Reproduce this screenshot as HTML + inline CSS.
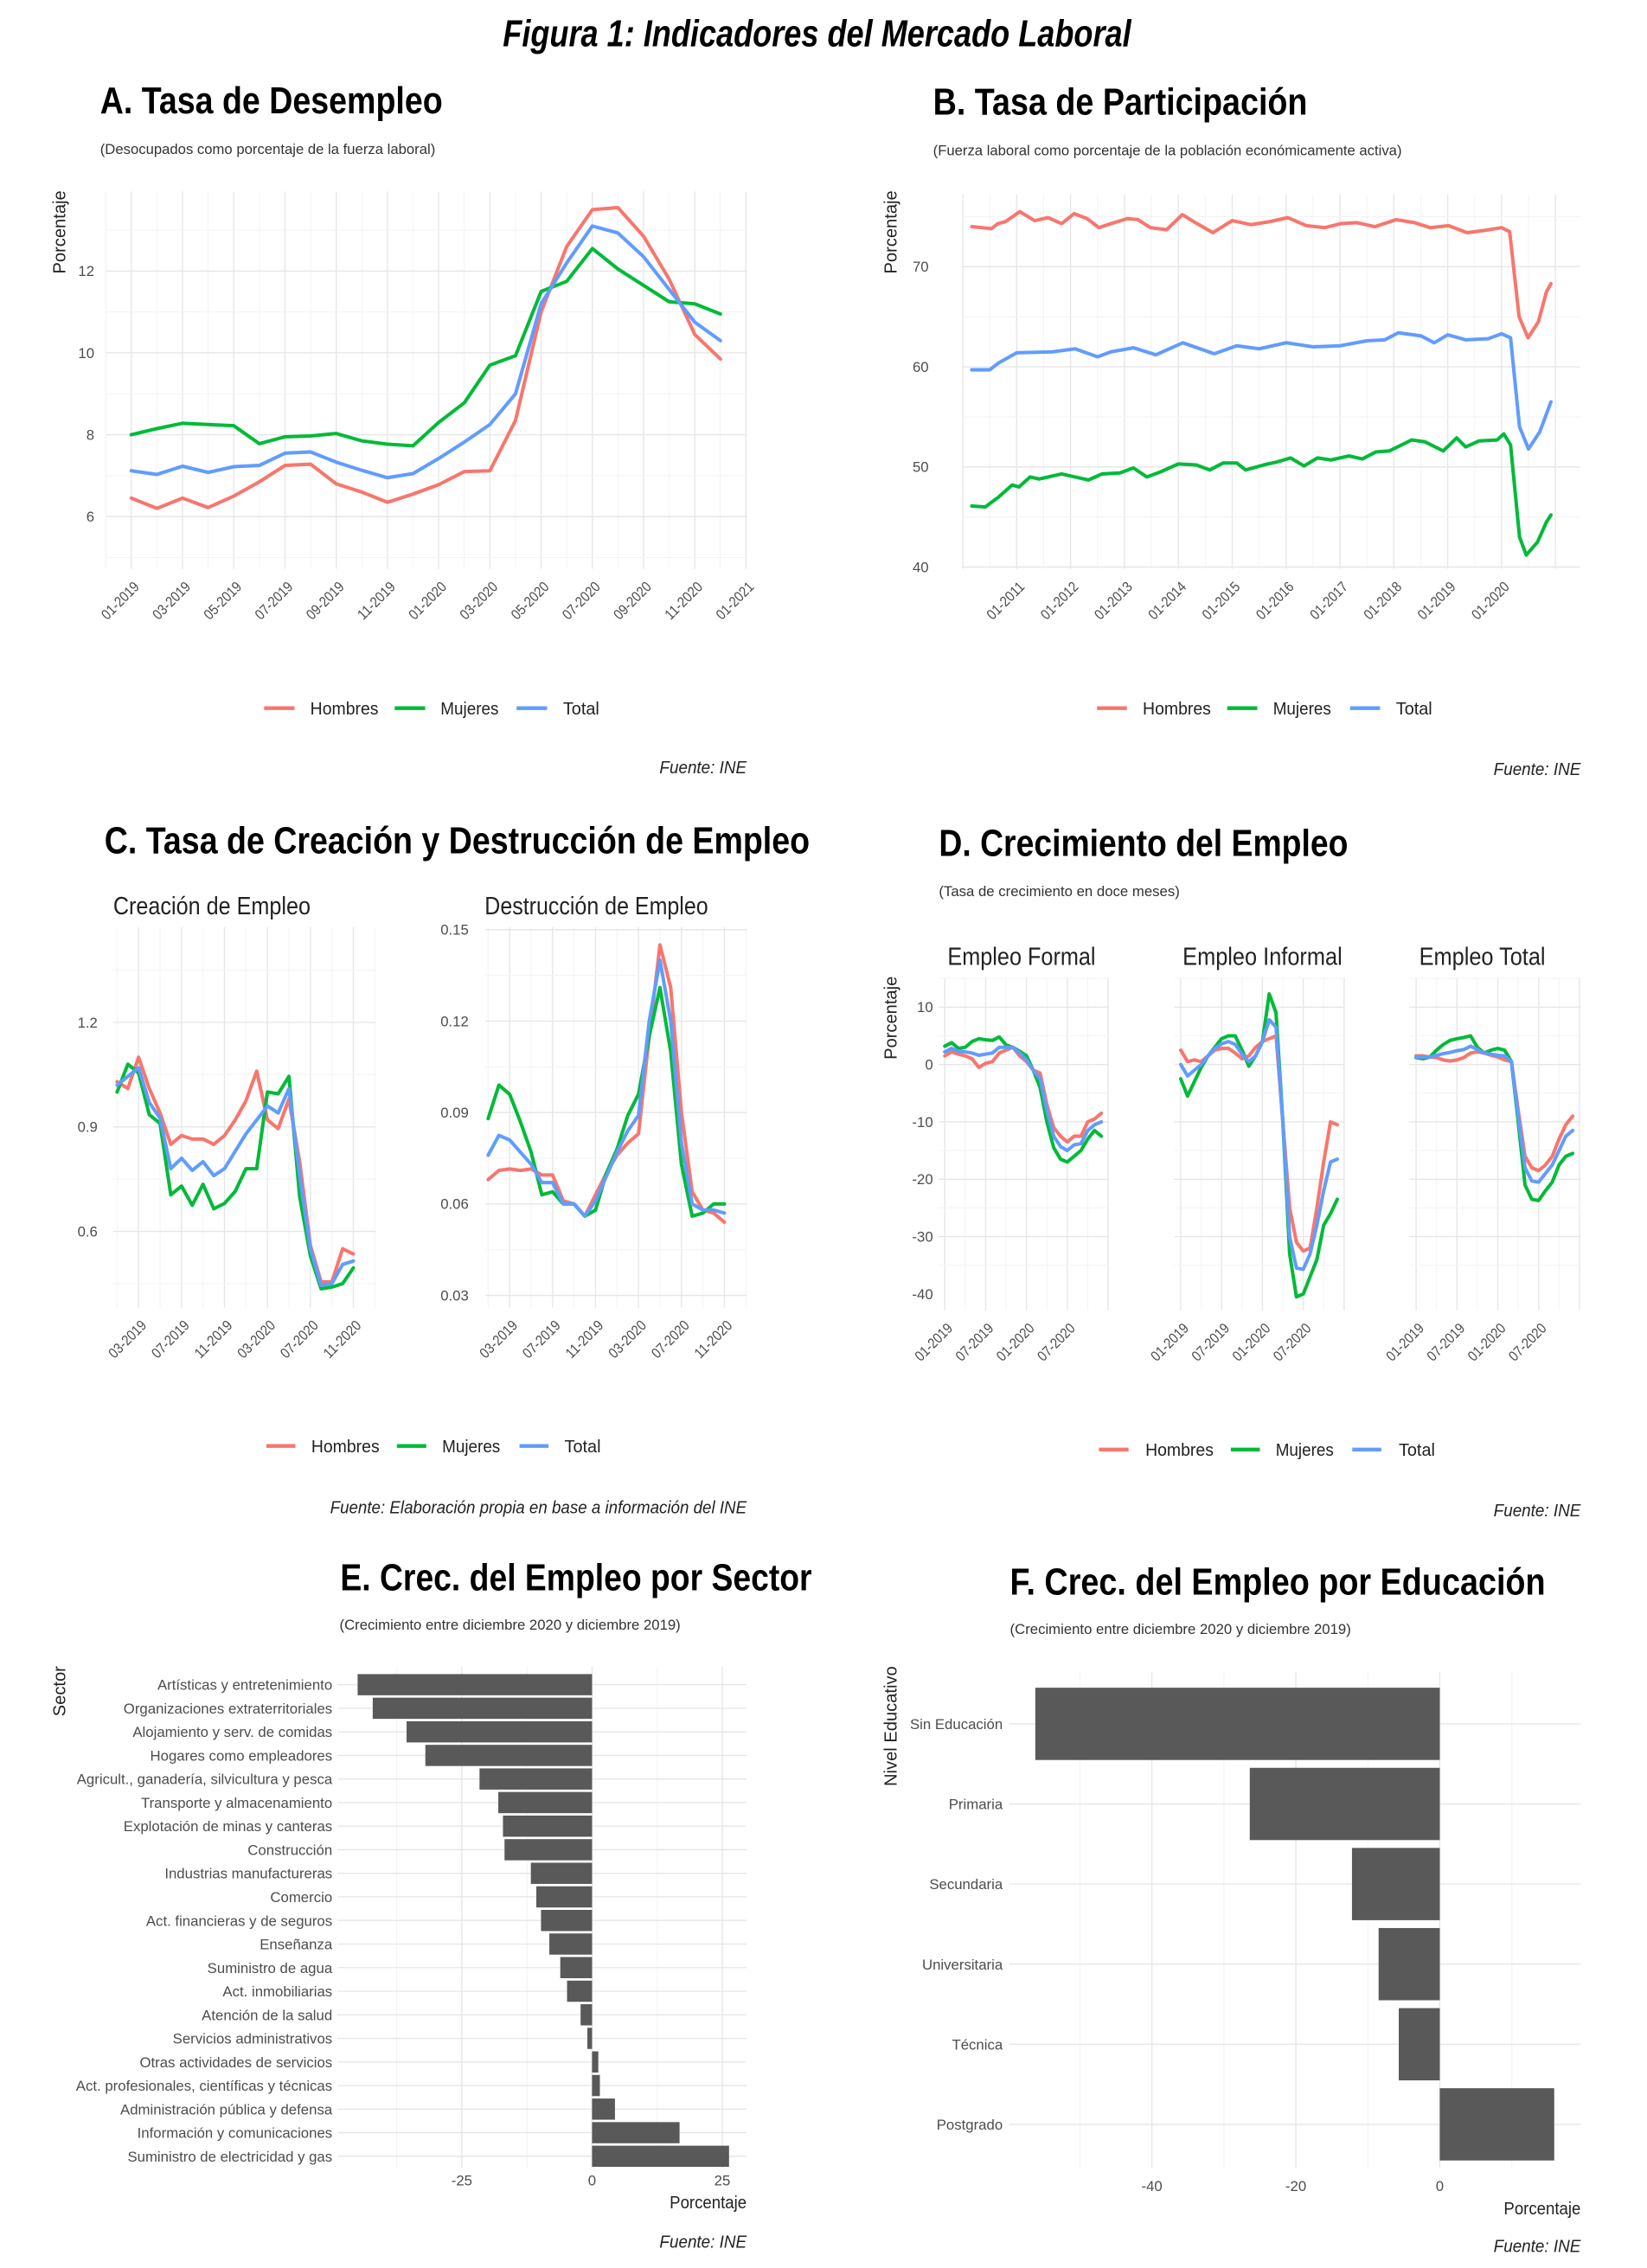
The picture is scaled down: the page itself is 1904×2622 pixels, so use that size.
<!DOCTYPE html>
<html><head><meta charset="utf-8"><title>Figura 1</title>
<style>
html,body{margin:0;padding:0;background:#fff;}
svg{display:block;}
text{font-family:"Liberation Sans Narrow","Liberation Sans",sans-serif;}
.tk{fill:#4d4d4d;font-size:10px;}
.ttl{font-weight:bold;fill:#000;font-size:26px;}
.sub{fill:#333;font-size:10px;}
.fac{fill:#222;font-size:17px;}
.lg{fill:#222;font-size:12px;}
.src{fill:#222;font-size:12px;font-style:italic;}
.axl{fill:#222;font-size:12px;}
</style></head>
<body>
<svg id="fig" xmlns="http://www.w3.org/2000/svg" width="1904" height="2622" viewBox="0 0 1135 1563" preserveAspectRatio="none">
<rect width="1135" height="1563" fill="#fff"/>
<text x="563" y="32" text-anchor="middle" font-size="26" font-weight="bold" font-style="italic" textLength="433" lengthAdjust="spacingAndGlyphs">Figura 1: Indicadores del Mercado Laboral</text>

<text class="ttl" x="69" y="78" textLength="236" lengthAdjust="spacingAndGlyphs">A. Tasa de Desempleo</text>
<text class="sub" x="69" y="106" textLength="231" lengthAdjust="spacingAndGlyphs">(Desocupados como porcentaje de la fuerza laboral)</text>
<text class="src" x="514.5" y="533" text-anchor="end" textLength="60" lengthAdjust="spacingAndGlyphs">Fuente: INE</text>

<text class="ttl" x="643" y="79" textLength="258" lengthAdjust="spacingAndGlyphs">B. Tasa de Participación</text>
<text class="sub" x="643" y="107" textLength="323" lengthAdjust="spacingAndGlyphs">(Fuerza laboral como porcentaje de la población económicamente activa)</text>
<text class="src" x="1089.3" y="534" text-anchor="end" textLength="60" lengthAdjust="spacingAndGlyphs">Fuente: INE</text>

<text class="ttl" x="72" y="588" textLength="486" lengthAdjust="spacingAndGlyphs">C. Tasa de Creación y Destrucción de Empleo</text>
<text class="fac" x="78" y="630" textLength="136" lengthAdjust="spacingAndGlyphs">Creación de Empleo</text>
<text class="fac" x="334" y="630" textLength="154" lengthAdjust="spacingAndGlyphs">Destrucción de Empleo</text>
<text class="src" x="514.5" y="1043" text-anchor="end" textLength="287" lengthAdjust="spacingAndGlyphs">Fuente: Elaboración propia en base a información del INE</text>

<text class="ttl" x="647" y="590" textLength="282" lengthAdjust="spacingAndGlyphs">D. Crecimiento del Empleo</text>
<text class="sub" x="647" y="617.5" textLength="166" lengthAdjust="spacingAndGlyphs">(Tasa de crecimiento en doce meses)</text>
<text class="fac" x="653" y="665" textLength="102" lengthAdjust="spacingAndGlyphs">Empleo Formal</text>
<text class="fac" x="815" y="665" textLength="110" lengthAdjust="spacingAndGlyphs">Empleo Informal</text>
<text class="fac" x="978" y="665" textLength="87" lengthAdjust="spacingAndGlyphs">Empleo Total</text>
<text class="src" x="1089.3" y="1045" text-anchor="end" textLength="60" lengthAdjust="spacingAndGlyphs">Fuente: INE</text>

<text class="ttl" x="234.5" y="1096" textLength="325" lengthAdjust="spacingAndGlyphs">E. Crec. del Empleo por Sector</text>
<text class="sub" x="234" y="1123" textLength="235" lengthAdjust="spacingAndGlyphs">(Crecimiento entre diciembre 2020 y diciembre 2019)</text>
<text class="axl" x="514.5" y="1522" text-anchor="end" textLength="53" lengthAdjust="spacingAndGlyphs">Porcentaje</text>
<text class="src" x="514.5" y="1549" text-anchor="end" textLength="60" lengthAdjust="spacingAndGlyphs">Fuente: INE</text>

<text class="ttl" x="696" y="1099" textLength="369" lengthAdjust="spacingAndGlyphs">F. Crec. del Empleo por Educación</text>
<text class="sub" x="696" y="1126" textLength="235" lengthAdjust="spacingAndGlyphs">(Crecimiento entre diciembre 2020 y diciembre 2019)</text>
<text class="axl" x="1089.3" y="1526" text-anchor="end" textLength="53" lengthAdjust="spacingAndGlyphs">Porcentaje</text>
<text class="src" x="1089.3" y="1552" text-anchor="end" textLength="60" lengthAdjust="spacingAndGlyphs">Fuente: INE</text>

<g id="layer"></g>
</svg>
<script>
// ---------- Panel A data ----------
const aHombres=[6.45,6.2,6.45,6.22,6.5,6.85,7.25,7.28,6.8,6.6,6.35,6.55,6.78,7.1,7.12,8.35,11.0,12.6,13.5,13.55,12.85,11.8,10.45,9.85];
const aMujeres=[8.0,8.15,8.28,8.25,8.22,7.78,7.95,7.97,8.03,7.85,7.77,7.73,8.3,8.78,9.7,9.93,11.5,11.75,12.55,12.05,11.65,11.25,11.2,10.95];
const aTotal=[7.12,7.03,7.23,7.08,7.22,7.25,7.55,7.58,7.33,7.13,6.95,7.05,7.42,7.82,8.25,9.0,11.2,12.2,13.1,12.93,12.35,11.55,10.75,10.3];
const aXTickLabels=['01-2019','03-2019','05-2019','07-2019','09-2019','11-2019','01-2020','03-2020','05-2020','07-2020','09-2020','11-2020','01-2021'];
const aYTicks=[6,8,10,12];
// ---------- Panel B data (months since 01-2010) ----------
const bHMonths=[2,6.4,7.8,9.5,12.7,16,19,22,24.8,27.7,30.3,33,36.6,39,41.8,45.4,48.9,51.8,55.7,60,64.2,68.3,72.4,76.5,80.6,84.2,87.7,91.8,96.5,100.6,104.1,108.2,112.3,115.9,120,121.8,123.9,125.9,128.2,130,131];
const bHombres=[74,73.8,74.3,74.5,75.5,74.6,74.9,74.3,75.3,74.8,73.9,74.3,74.8,74.7,73.9,73.7,75.2,74.4,73.4,74.6,74.2,74.5,74.9,74.1,73.9,74.3,74.4,74.0,74.7,74.4,73.9,74.1,73.4,73.6,73.9,73.5,65,62.9,64.5,67.5,68.3];
const bTMonths=[2,6,8,12,20,25,30,33,38,43,49,56,61,66,72,78,84,90,94,97,102,105,108,112,117,120,122,124,126,128.5,131];
const bTotal=[59.7,59.7,60.4,61.4,61.5,61.8,61.0,61.5,61.9,61.2,62.4,61.3,62.1,61.8,62.4,62.0,62.1,62.6,62.7,63.4,63.1,62.4,63.2,62.7,62.8,63.3,62.9,54,51.8,53.5,56.5];
const bMMonths=[2,5,8,11,12.5,15,17,22,25,28,31,35,38,41,44,48,52,55,58,61,63,67,70,73,76,79,82,86,89,92,95,100,103,107,110,112,115,119,120.5,122,124,125.5,128,130,131];
const bMujeres=[46.1,46.0,47,48.2,48.0,49,48.8,49.3,49.0,48.7,49.3,49.4,49.9,49.0,49.5,50.3,50.2,49.7,50.4,50.4,49.7,50.2,50.5,50.9,50.1,50.9,50.7,51.1,50.8,51.5,51.6,52.7,52.5,51.6,52.9,52.0,52.6,52.7,53.3,52.2,43,41.2,42.5,44.5,45.2];
const bXTickLabels=['01-2011','01-2012','01-2013','01-2014','01-2015','01-2016','01-2017','01-2018','01-2019','01-2020'];
const bYTicks=[40,50,60,70];
// ---------- Panel C data (01-2019 .. 11-2020) ----------
const cCreaH=[1.03,1.01,1.10,1.01,0.94,0.85,0.875,0.865,0.865,0.85,0.875,0.92,0.975,1.06,0.92,0.895,0.98,0.80,0.56,0.455,0.455,0.55,0.535];
const cCreaM=[1.00,1.08,1.055,0.935,0.91,0.705,0.73,0.675,0.735,0.665,0.68,0.715,0.78,0.78,1.00,0.995,1.045,0.70,0.53,0.435,0.44,0.45,0.495];
const cCreaT=[1.02,1.045,1.07,0.97,0.925,0.78,0.81,0.775,0.80,0.76,0.78,0.83,0.88,0.92,0.96,0.94,1.01,0.76,0.55,0.445,0.45,0.505,0.515];
const cDestH=[0.068,0.071,0.0715,0.071,0.0715,0.0695,0.0695,0.061,0.060,0.056,0.063,0.070,0.076,0.080,0.083,0.115,0.145,0.131,0.090,0.064,0.058,0.057,0.054];
const cDestM=[0.088,0.099,0.096,0.087,0.077,0.063,0.064,0.060,0.060,0.056,0.058,0.070,0.078,0.089,0.096,0.115,0.131,0.110,0.073,0.056,0.057,0.060,0.060];
const cDestT=[0.076,0.0825,0.081,0.077,0.073,0.067,0.067,0.060,0.060,0.056,0.061,0.069,0.077,0.084,0.089,0.120,0.140,0.120,0.080,0.060,0.058,0.058,0.057];
const cXTickLabels=['03-2019','07-2019','11-2019','03-2020','07-2020','11-2020'];
const cCreaYTicks=[0.6,0.9,1.2];
const cDestYTicks=[0.03,0.06,0.09,0.12,0.15];
// ---------- Panel D data (01-2019 .. 12-2020) ----------
const dFormalH=[1.5,2.2,1.8,1.5,1.0,-0.5,0.2,0.5,2.0,2.5,3.0,1.5,0.5,-1.0,-1.5,-7,-11,-12.5,-13.5,-12.5,-12.5,-10,-9.5,-8.5];
const dFormalM=[3.2,3.8,2.8,3.0,4.0,4.5,4.3,4.2,4.8,3.4,3.0,2.3,1.5,-1.0,-4.0,-10,-14.5,-16.5,-17,-16,-15,-13,-11.5,-12.5];
const dFormalT=[2.2,2.8,2.3,2.2,2.0,1.6,1.8,2.0,3.0,3.0,3.0,2.0,0.8,-1.0,-2.5,-8.0,-12.5,-14.3,-15.0,-14,-13.8,-11.5,-10.5,-10];
const dInfH=[2.5,0.5,0.8,0.5,1.5,2.5,2.8,2.8,2.0,1.0,1.5,3.0,4.0,4.5,5.0,-10,-25,-31,-32.5,-32,-25,-17,-10,-10.5];
const dInfM=[-2.5,-5.5,-3,-0.5,1.5,3,4.5,5,5,2.5,-0.3,1.5,4,12.3,9,-10,-33,-40.5,-40,-37,-34,-28,-26,-23.5];
const dInfT=[0,-2,-1,0,1.5,2.8,3.6,4,3.5,1.8,0.5,1.5,4,7.8,6.5,-10,-30,-35.5,-35.7,-33,-28,-22,-17,-16.5];
const dTotH=[1.5,1.5,1.3,1.2,0.8,0.6,0.8,1.2,2.0,2.2,2.0,1.6,1.3,0.8,0.5,-8,-16,-18,-18.5,-17.5,-16,-13,-10.5,-9];
const dTotM=[1.2,1.0,1.3,2.5,3.5,4.2,4.5,4.7,5.0,3.0,2.0,2.5,2.8,2.5,0.5,-10,-21,-23.5,-23.7,-22,-20.5,-17.5,-16,-15.5];
const dTotT=[1.3,1.3,1.3,1.6,1.9,2.1,2.4,2.6,3.2,2.6,2.0,1.8,1.6,1.5,0.5,-9,-18,-20.3,-20.5,-19,-17.5,-15,-12.5,-11.5];
const dXTickLabels=['01-2019','07-2019','01-2020','07-2020'];
const dYTicks=[-40,-30,-20,-10,0,10];
// ---------- Panel E data ----------
const eSectors=['Artísticas y entretenimiento','Organizaciones extraterritoriales','Alojamiento y serv. de comidas','Hogares como empleadores','Agricult., ganadería, silvicultura y pesca','Transporte y almacenamiento','Explotación de minas y canteras','Construcción','Industrias manufactureras','Comercio','Act. financieras y de seguros','Enseñanza','Suministro de agua','Act. inmobiliarias','Atención de la salud','Servicios administrativos','Otras actividades de servicios','Act. profesionales, científicas y técnicas','Administración pública y defensa','Información y comunicaciones','Suministro de electricidad y gas'];
const eValues=[-45.0,-42.1,-35.6,-32.0,-21.6,-18.0,-17.1,-16.8,-11.75,-10.7,-9.8,-8.2,-6.1,-4.8,-2.2,-0.9,1.2,1.5,4.4,16.8,26.3];
const eXTicks=[-25,0,25];
// ---------- Panel F data ----------
const fLevels=['Sin Educación','Primaria','Secundaria','Universitaria','Técnica','Postgrado'];
const fValues=[-56.2,-26.4,-12.2,-8.5,-5.7,15.9];
const fXTicks=[-40,-20,0];

const NS='http://www.w3.org/2000/svg';
const layer=document.getElementById('layer');
const COL={H:'#F8766D',M:'#00BA38',T:'#619CFF'};
function mk(tag,attrs,parent){const e=document.createElementNS(NS,tag);for(const k in attrs)e.setAttribute(k,attrs[k]);(parent||layer).appendChild(e);return e;}
function vline(x,y0,y1,minor){const l=mk('line',{x1:x,x2:x,y1:y0,y2:y1,stroke:minor?'#f3f3f3':'#e6e6e6','stroke-width':minor?0.6:0.8});

}
function hline(y,x0,x1,minor){const l=mk('line',{x1:x0,x2:x1,y1:y,y2:y,stroke:minor?'#f3f3f3':'#e6e6e6','stroke-width':minor?0.6:0.8});

}
function series(vals,xf,yf,color,name){let d='';vals.forEach((v,i)=>{d+=(i?'L':'M')+xf(i).toFixed(2)+','+yf(v).toFixed(2);});
const p=mk('path',{d:d,fill:'none',stroke:color,'stroke-width':2.4,'stroke-linejoin':'round','stroke-linecap':'round'});

}
function seriesXY(xs,vals,xf,yf,color,name){let d='';vals.forEach((v,i)=>{d+=(i?'L':'M')+xf(xs[i]).toFixed(2)+','+yf(v).toFixed(2);});
const p=mk('path',{d:d,fill:'none',stroke:color,'stroke-width':2.4,'stroke-linejoin':'round','stroke-linecap':'round'});

}
function ytick(x,y,label){const t=mk('text',{x:x,y:y+3.5,'text-anchor':'end',class:'tk'});t.textContent=label;

}
function xtickRot(x,y,label){const t=mk('text',{x:x,y:y,'text-anchor':'end',class:'tk'});
t.setAttribute('transform','rotate(-45 '+x+' '+y+')');
t.setAttribute('textLength','32');
t.setAttribute('lengthAdjust','spacingAndGlyphs');
t.textContent=label;

}
function xtick(x,y,label){const t=mk('text',{x:x,y:y,'text-anchor':'middle',class:'tk'});t.textContent=label;

}
function ylab(x,y,label,name){const t=mk('text',{x:x,y:y,'text-anchor':'middle',class:'axl',transform:'rotate(-90 '+x+' '+y+')'});t.textContent=label;

}
function legend(y,pos){const names=['Hombres','Mujeres','Total'];const cols=[COL.H,COL.M,COL.T];const lens=[47,40,25];
pos.forEach((p,i)=>{const l=mk('line',{x1:p[0],x2:p[1],y1:y,y2:y,stroke:cols[i],'stroke-width':2.6});


const t=mk('text',{x:p[2],y:y+4.3,class:'lg',textLength:lens[i],lengthAdjust:'spacingAndGlyphs'});t.textContent=names[i];

});}

// ===== Panel A =====
(function(){const X0=73,X1=515,Y0=132,Y1=392;
const xA=i=>90.5+i*17.65, yA=v=>356-(v-6)*28.2;
for(let i=-1;i<=24;i++)vline(xA(i),Y0,Y1,i%2!==0);
for(let v=5;v<=13;v++)hline(yA(v),X0,X1,v%2!==0);
aYTicks.forEach(v=>ytick(65,yA(v),String(v)));
aXTickLabels.forEach((s,k)=>xtickRot(xA(k*2)+6,Y1+13,s));
series(aHombres,xA,yA,COL.H,'line-a-hombres');
series(aMujeres,xA,yA,COL.M,'line-a-mujeres');
series(aTotal,xA,yA,COL.T,'line-a-total');
ylab(45,160,'Porcentaje','panel-a-y-axis-title');
legend(488,[[182,203,213.8],[272,293,303.6],[356,377,388]]);})();

// ===== Panel B =====
(function(){const X0=663,X1=1089,Y0=134,Y1=392;
const xB=m=>663.5+m*3.094, yB=v=>183.8+(70-v)*6.9;
for(let m=0;m<=132;m+=6)vline(xB(m),Y0,Y1,m%12!==0);
for(let v=40;v<=75;v+=5)hline(yB(v),X0,X1,v%10!==0);
bYTicks.forEach(v=>ytick(640,yB(v),String(v)));
bXTickLabels.forEach((s,k)=>xtickRot(xB(12+k*12)+6,Y1+13,s));
seriesXY(bHMonths,bHombres,xB,yB,COL.H,'line-b-hombres');
seriesXY(bMMonths,bMujeres,xB,yB,COL.M,'line-b-mujeres');
seriesXY(bTMonths,bTotal,xB,yB,COL.T,'line-b-total');
ylab(618,160,'Porcentaje','panel-b-y-axis-title');
legend(488,[[756,776.6,787.5],[845.7,866.4,877.3],[930.4,951,962]]);})();

// ===== Panel C =====
(function(){const Y0=639,Y1=901;
const xL=i=>80.7+i*7.40, yL=v=>704.6+(1.2-v)*240;
const xR=i=>336.4+i*7.40, yR=v=>640.7+(0.15-v)*2100;
for(let i=0;i<=24;i+=2){vline(xL(i),Y0,Y1,i%4===0);vline(xR(i),Y0,Y1,i%4===0);}
for(let k=0;k<7;k++){const v=0.45+k*0.15;hline(yL(v),78,259,k%2===0);}
for(let k=0;k<9;k++){const v=0.03+k*0.015;hline(yR(v),334.5,514.5,k%2===1);}
cCreaYTicks.forEach(v=>ytick(67.3,yL(v),v.toFixed(1)));
cDestYTicks.forEach(v=>ytick(323,yR(v),v.toFixed(2)));
cXTickLabels.forEach((s,k)=>{xtickRot(xL(2+k*4)+6,Y1+13,s);xtickRot(xR(2+k*4)+6,Y1+13,s);});
series(cCreaH,xL,yL,COL.H,'line-creacion-hombres');
series(cCreaM,xL,yL,COL.M,'line-creacion-mujeres');
series(cCreaT,xL,yL,COL.T,'line-creacion-total');
series(cDestH,xR,yR,COL.H,'line-destruccion-hombres');
series(cDestM,xR,yR,COL.M,'line-destruccion-mujeres');
series(cDestT,xR,yR,COL.T,'line-destruccion-total');
legend(996.5,[[183.6,203.6,214.5],[273.5,293.8,304.7],[358,378,389]]);})();

// ===== Panel D =====
(function(){const Y0=673.7,Y1=903;
const panels=[[646.8,763.9,651.1],[809.3,925.7,813.7],[971.1,1089.3,975.9]];
const yD=v=>733.6-v*3.954;
const sets=[[dFormalH,dFormalM,dFormalT,'formal'],[dInfH,dInfM,dInfT,'informal'],[dTotH,dTotM,dTotT,'total']];
panels.forEach((p,pi)=>{const xD=i=>p[2]+i*4.69;
for(let i=0;i<=24;i+=3)vline(xD(i),Y0,Y1,i%6!==0);
for(let v=-35;v<=15;v+=5)hline(yD(v),p[0],p[1],v%10!==0);
dXTickLabels.forEach((s,k)=>xtickRot(xD(k*6)+6,Y1+13,s));
const S=sets[pi];
series(S[0],xD,yD,COL.H,'line-'+S[3]+'-hombres');
series(S[1],xD,yD,COL.M,'line-'+S[3]+'-mujeres');
series(S[2],xD,yD,COL.T,'line-'+S[3]+'-total');});
dYTicks.forEach(v=>ytick(643,yD(v),String(v)));
ylab(618,701.5,'Porcentaje','panel-d-y-axis-title');
legend(999,[[757.3,777.7,789.3],[848.2,868.2,879.1],[931.9,951.9,963.9]]);})();

// ===== Panel E =====
(function(){const X0=232.7,X1=514.5,Y0=1148.5,Y1=1494;
const xE=v=>408+v*3.59, yE=i=>1161+i*16.25;
for(let v=-37.5;v<=25;v+=12.5)vline(xE(v),Y0,Y1,(v%25)!==0);
eSectors.forEach((s,i)=>{hline(yE(i),X0,X1,false);});
eSectors.forEach((s,i)=>{const v=eValues[i];
const r=mk('rect',{x:Math.min(xE(0),xE(v)),y:yE(i)-7.3,width:Math.abs(xE(v)-xE(0)),height:14.6,fill:'#595959'});


const t=mk('text',{x:229,y:yE(i)+3.6,'text-anchor':'end',class:'tk'});t.textContent=s;

});
eXTicks.forEach(v=>xtick(xE(v),1506,String(v)));
ylab(45,1165.5,'Sector','panel-e-y-axis-title');})();

// ===== Panel F =====
(function(){const X0=695.5,X1=1089.3,Y0=1152,Y1=1494;
const xF=v=>992.2+v*4.96, yF=i=>1188+i*55.2;
for(let v=-50;v<=10;v+=10)vline(xF(v),Y0,Y1,(v%20)!==0);
fLevels.forEach((s,i)=>hline(yF(i),X0,X1,false));
fLevels.forEach((s,i)=>{const v=fValues[i];
const r=mk('rect',{x:Math.min(xF(0),xF(v)),y:yF(i)-24.9,width:Math.abs(xF(v)-xF(0)),height:49.8,fill:'#595959'});


const t=mk('text',{x:691,y:yF(i)+3.6,'text-anchor':'end',class:'tk'});t.textContent=s;

});
fXTicks.forEach(v=>xtick(xF(v),1510,String(v)));
ylab(618,1189.6,'Nivel Educativo','panel-f-y-axis-title');})();
</script>
</body></html>
